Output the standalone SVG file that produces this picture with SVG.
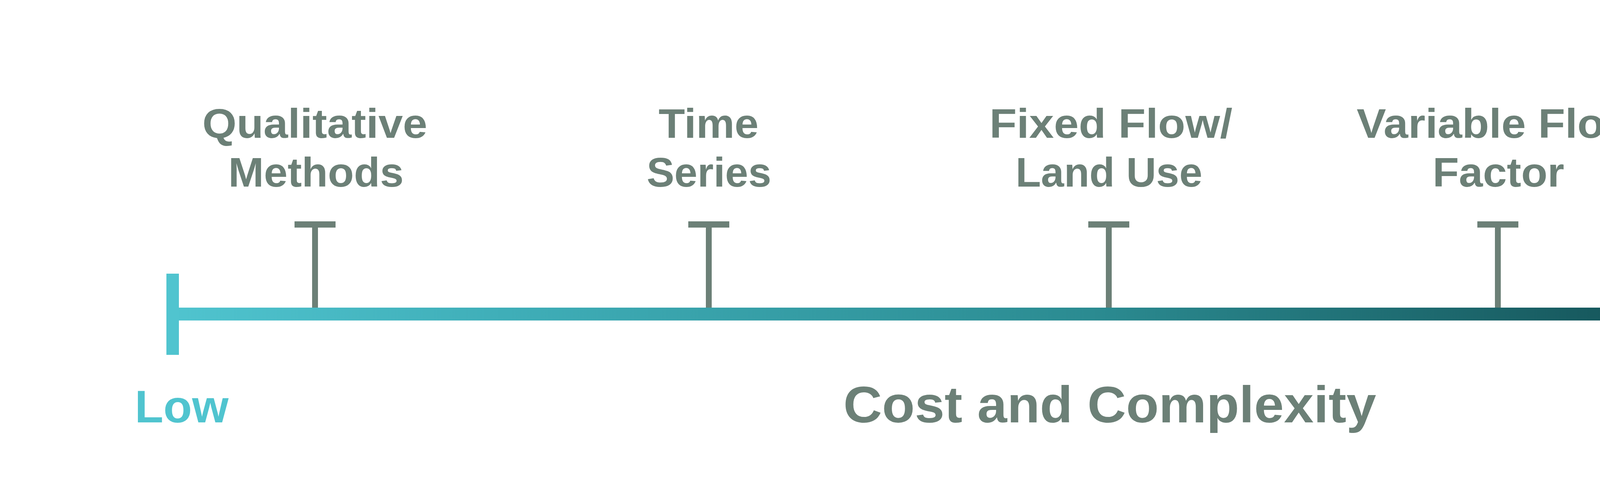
<svg xmlns="http://www.w3.org/2000/svg" width="5722" height="1268" viewBox="0 0 5722 1268">
<defs>
<linearGradient id="axisGrad" gradientUnits="userSpaceOnUse" x1="426" y1="0" x2="5250" y2="0">
<stop offset="0" stop-color="#50C4CF"/>
<stop offset="0.18" stop-color="#3FAEB8"/>
<stop offset="0.49" stop-color="#2B8B91"/>
<stop offset="0.8" stop-color="#145257"/>
<stop offset="1" stop-color="#043B43"/>
</linearGradient>
<style>
.lbl{font-family:"Liberation Sans",Arial,sans-serif;font-weight:bold;font-size:106px;fill:#6C8077;text-anchor:middle}
.end{font-family:"Liberation Sans",Arial,sans-serif;font-weight:bold;font-size:117px;text-anchor:middle}
.title{font-family:"Liberation Sans",Arial,sans-serif;font-weight:bold;font-size:131px;fill:#6C8077;text-anchor:middle}
.tick{fill:#6C8077}
</style>
</defs>
<rect width="5722" height="1268" fill="#FFFFFF"/>
<g id="axis">
<rect x="426" y="788" width="4824" height="33" fill="url(#axisGrad)"/>
<rect x="426" y="701" width="32" height="208" fill="#50C4CF"/>
<rect x="5218" y="701" width="32" height="208" fill="#043B43"/>
</g>
<g id="connectors">
<g id="tick-qualitative" class="tick"><rect x="754" y="567" width="105" height="16"/><rect x="799" y="583" width="15" height="205"/></g>
<g id="tick-time" class="tick"><rect x="1762" y="567" width="105" height="16"/><rect x="1807" y="583" width="15" height="205"/></g>
<g id="tick-fixed" class="tick"><rect x="2786" y="567" width="105" height="16"/><rect x="2831" y="583" width="15" height="205"/></g>
<g id="tick-variable" class="tick"><rect x="3782" y="567" width="105" height="16"/><rect x="3827" y="583" width="15" height="205"/></g>
<g id="tick-econometric" class="tick"><rect x="4798" y="567" width="105" height="16"/><rect x="4843" y="583" width="15" height="205"/></g>
</g>
<g id="node-qualitative">
<text class="lbl" x="806" y="353" textLength="576" lengthAdjust="spacingAndGlyphs">Qualitative</text>
<text class="lbl" x="809" y="478" textLength="449" lengthAdjust="spacingAndGlyphs">Methods</text>
</g>
<g id="node-time">
<text class="lbl" x="1814" y="353" textLength="256" lengthAdjust="spacingAndGlyphs">Time</text>
<text class="lbl" x="1815" y="478" textLength="319" lengthAdjust="spacingAndGlyphs">Series</text>
</g>
<g id="node-fixed">
<text class="lbl" x="2844" y="353" textLength="622" lengthAdjust="spacingAndGlyphs">Fixed Flow/</text>
<text class="lbl" x="2839" y="478" textLength="478" lengthAdjust="spacingAndGlyphs">Land Use</text>
</g>
<g id="node-variable">
<text class="lbl" x="3834" y="353" textLength="722" lengthAdjust="spacingAndGlyphs">Variable Flow</text>
<text class="lbl" x="3836" y="478" textLength="337" lengthAdjust="spacingAndGlyphs">Factor</text>
</g>
<g id="node-econometric">
<text class="lbl" x="4854" y="478" textLength="666" lengthAdjust="spacingAndGlyphs">Econometric</text>
</g>
<g id="node-low">
<text class="end" x="465" y="1082" fill="#50C4CF" textLength="240" lengthAdjust="spacingAndGlyphs">Low</text>
</g>
<g id="node-high">
<text class="end" x="5248" y="1082" fill="#043B43" textLength="266" lengthAdjust="spacingAndGlyphs">High</text>
</g>
<g id="node-title">
<text class="title" x="2841" y="1082" textLength="1364" lengthAdjust="spacingAndGlyphs">Cost and Complexity</text>
</g>
</svg>
